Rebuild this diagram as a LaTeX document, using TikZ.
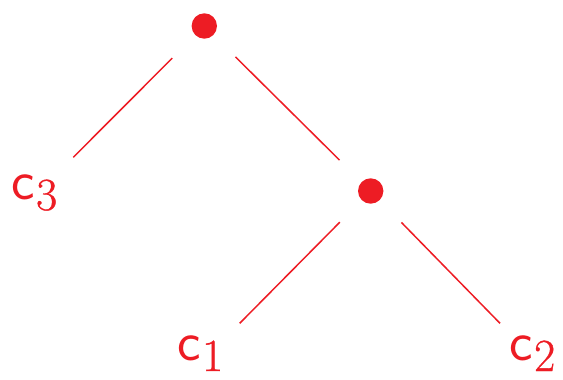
\documentclass[tikz,border=0pt]{standalone}
\usepackage{fontspec}
\definecolor{tred}{RGB}{237,28,36}
\newfontfamily\subfont[FakeBold=0.8]{Latin Modern Roman}
\newcommand{\clab}[1]{{\fontsize{56}{60}\selectfont\sffamily c}\kern1.5pt\raisebox{-11pt}{\fontsize{46}{50}\selectfont\subfont #1}}
\begin{document}
\begin{tikzpicture}[x=1pt,y=-1pt,
  dot/.style={circle,fill=tred,inner sep=0pt,minimum size=25.4pt},
  lab/.style={text=tred,inner sep=0pt,anchor=base west},
  edge/.style={draw=tred,line width=1.5pt}]
\useasboundingbox (0,0) rectangle (563,380);
\node[dot] (r) at (204.3,26) {};
\node[dot] (n) at (370.7,191) {};
\node[lab] (c3) at (11,199) {\clab{3}};
\node[lab] (c1) at (177,360) {\clab{1}};
\node[lab] (c2) at (509,360) {\clab{2}};
\coordinate (e3) at (73.3,157.3);
\coordinate (e1) at (239.7,323.3);
\coordinate (e2) at (500,323.3);
\draw[edge, shorten <=32.5pt] (r) -- (e3);
\draw[edge, shorten <=31pt, shorten >=31pt] (r) -- (n);
\draw[edge, shorten <=31pt] (n) -- (e1);
\draw[edge, shorten <=31pt] (n) -- (e2);
\end{tikzpicture}
\end{document}
